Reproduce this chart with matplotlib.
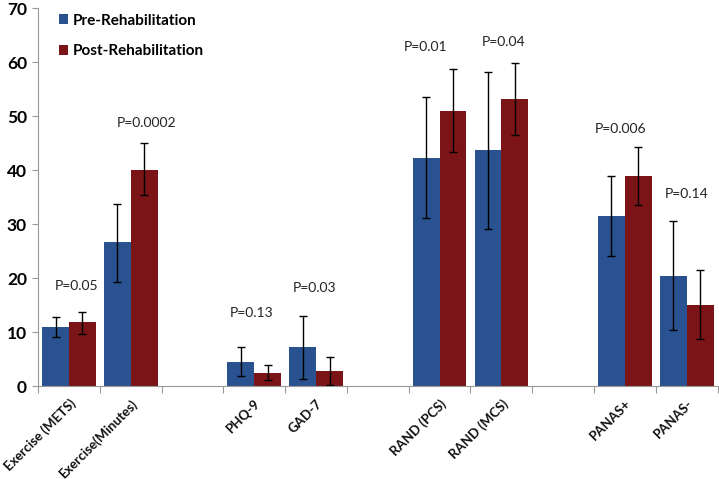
import numpy as np
import matplotlib
matplotlib.use('Agg')
import matplotlib.pyplot as plt

plt.rcParams['font.family'] = ['Lato', 'DejaVu Sans']

# categories (blank slots separate the groups)
categories = ['Exercise (METS)', 'Exercise(Minutes)', '', 'PHQ-9', 'GAD-7', '',
              'RAND (PCS)', 'RAND (MCS)', '', 'PANAS+', 'PANAS-']
measures = ['Exercise (METS)', 'Exercise(Minutes)', 'PHQ-9', 'GAD-7',
            'RAND (PCS)', 'RAND (MCS)', 'PANAS+', 'PANAS-']

pre = [10.9, 26.6, 4.5, 7.2, 42.3, 43.7, 31.5, 20.3]
pre_err_hi = [12.8, 33.8, 7.2, 13.0, 53.5, 58.2, 38.9, 30.6]
pre_err_lo = [9.1, 19.2, 1.9, 1.4, 31.1, 29.1, 24.0, 10.3]

post = [11.8, 40.0, 2.4, 2.8, 51.0, 53.2, 38.9, 15.0]
post_err_hi = [13.8, 45.1, 3.9, 5.4, 58.8, 59.8, 44.2, 21.5]
post_err_lo = [9.7, 35.3, 1.2, 0.2, 43.4, 46.5, 33.6, 8.7]

p_labels = ['P=0.05', 'P=0.0002', 'P=0.13', 'P=0.03', 'P=0.01', 'P=0.04', 'P=0.006', 'P=0.14']
p_y = [18.6, 48.7, 13.5, 18.1, 62.8, 63.7, 47.6, 35.6]
p_dx = [0.13, 0.25, -0.05, -0.02, -0.23, 0.03, -0.07, 0.0]

blue = '#2A5290'
red = '#7B1416'

x = np.array([categories.index(m) for m in measures])
w = 0.435

fig = plt.figure(figsize=(7.19, 4.79), dpi=100)
ax = fig.add_axes([0.053, 0.194, 0.945, 0.789])

pre = np.array(pre)
post = np.array(post)
pre_yerr = [pre - np.array(pre_err_lo), np.array(pre_err_hi) - pre]
post_yerr = [post - np.array(post_err_lo), np.array(post_err_hi) - post]

ax.bar(x - w / 2, pre, width=w, color=blue, label='Pre-Rehabilitation',
       yerr=pre_yerr, capsize=3, error_kw=dict(ecolor='black', elinewidth=1, capthick=1))
ax.bar(x + w / 2, post, width=w, color=red, label='Post-Rehabilitation',
       yerr=post_yerr, capsize=3, error_kw=dict(ecolor='black', elinewidth=1, capthick=1))

for xi, lab, yy, dx in zip(x, p_labels, p_y, p_dx):
    ax.text(xi + dx, yy, lab, ha='center', va='center', fontsize=10, color='#222222')

ax.set_xlim(-0.5, len(categories) - 0.5)
ax.set_ylim(0, 70)
ax.set_yticks(range(0, 71, 10))
ax.tick_params(axis='y', labelsize=12.5, length=4, color='#999999', pad=4)
for t in ax.get_yticklabels():
    t.set_fontweight('bold')

# tick marks at category boundaries, labels at centres
ax.set_xticks(np.arange(-0.5, len(categories), 1))
ax.set_xticklabels([])
ax.tick_params(axis='x', which='major', length=5, color='#999999')
ax.set_xticks(np.arange(len(categories)), minor=True)
ax.set_xticklabels(categories, minor=True, rotation=45, ha='right', va='top',
                   rotation_mode='anchor', fontsize=9.5, fontweight='bold', color='#111111')
ax.tick_params(axis='x', which='minor', length=0, pad=8)

for s in ['top', 'right']:
    ax.spines[s].set_visible(False)
for s in ['left', 'bottom']:
    ax.spines[s].set_color('#999999')

ax.legend(loc='upper left', bbox_to_anchor=(0.01, 1.022), frameon=False,
          prop={'weight': 'bold', 'size': 11}, handlelength=0.6, handleheight=0.6,
          handletextpad=0.35, labelspacing=1.1)

fig.savefig('out.png', dpi=100)
